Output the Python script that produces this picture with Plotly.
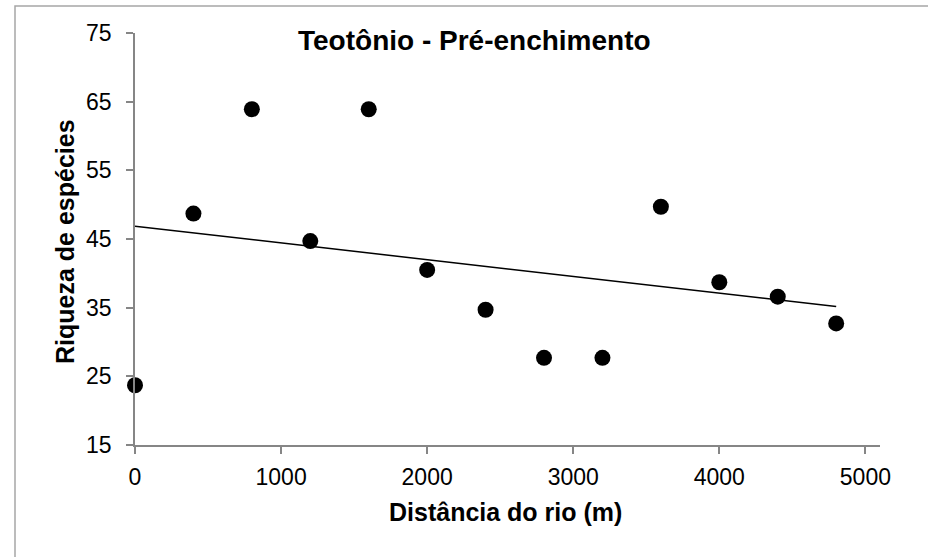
import numpy as np
import plotly.graph_objects as go

distancia = [0, 400, 800, 1200, 1600, 2000, 2400, 2800, 3200, 3600, 4000, 4400, 4800]
riqueza = [23.7, 48.7, 63.9, 44.7, 63.9, 40.5, 34.7, 27.7, 27.7, 49.7, 38.7, 36.6, 32.7]
x_ticks = [0, 1000, 2000, 3000, 4000, 5000]
y_ticks = [15, 25, 35, 45, 55, 65, 75]

titulo = "Teotônio - Pré-enchimento"
titulo_x = "Distância do rio (m)"
titulo_y = "Riqueza de espécies"

# linear trend line (least squares)
slope, intercept = np.polyfit(distancia, riqueza, 1)
trend_x = [min(distancia), max(distancia)]
trend_y = [intercept + slope * v for v in trend_x]

W, H = 928, 557
ml, mr, mt, mb = 135, 48, 33, 112
pw, ph = W - ml - mr, H - mt - mb

def px(p):
    return (p - ml) / pw

def py(p):
    return ((H - mb) - p) / ph

fig = go.Figure()
fig.add_trace(go.Scatter(x=trend_x, y=trend_y, mode="lines", cliponaxis=False,
                         line=dict(color="black", width=1.5), hoverinfo="skip"))
fig.add_trace(go.Scatter(x=distancia, y=riqueza, mode="markers", cliponaxis=False,
                         marker=dict(color="black", size=16)))

axis_font = dict(family="Liberation Sans, Arial, sans-serif", size=23, color="#000000")
fig.update_xaxes(range=[0, 5100], tickvals=x_ticks, ticks="outside", ticklen=7,
                 tickcolor="#868686", tickwidth=1.5, showline=True, linecolor="#868686",
                 linewidth=1.5, showgrid=False, zeroline=False, tickfont=axis_font,
                 ticklabelstandoff=4)
fig.update_yaxes(range=[15, 75], tickvals=y_ticks, ticks="outside", ticklen=7,
                 tickcolor="#868686", tickwidth=1.5, showline=True, linecolor="#868686",
                 linewidth=1.5, showgrid=False, zeroline=False, tickfont=axis_font,
                 ticklabelstandoff=10)

bold = "Liberation Sans, Arial, sans-serif"
fig.update_layout(
    width=W, height=H, showlegend=False,
    margin=dict(l=ml, r=mr, t=mt, b=mb),
    paper_bgcolor="white", plot_bgcolor="white",
    annotations=[
        dict(text="<b>" + titulo + "</b>", xref="paper", yref="paper",
             x=px(474), y=py(40), xanchor="center", yanchor="middle", showarrow=False,
             font=dict(family=bold, size=28, color="black")),
        dict(text="<b>" + titulo_x + "</b>", xref="paper", yref="paper",
             x=px(505), y=py(512), xanchor="center", yanchor="middle", showarrow=False,
             font=dict(family=bold, size=25, color="black")),
        dict(text="<b>" + titulo_y + "</b>", xref="paper", yref="paper",
             x=px(65), y=py(242), xanchor="center", yanchor="middle", showarrow=False,
             textangle=-90, font=dict(family=bold, size=25, color="black")),
    ],
    shapes=[dict(type="rect", xref="paper", yref="paper",
                 x0=px(15), x1=px(1000), y0=py(700), y1=py(6),
                 line=dict(color="#a6a6a6", width=1.5), fillcolor="rgba(0,0,0,0)")],
)

fig.write_html("out.html")
